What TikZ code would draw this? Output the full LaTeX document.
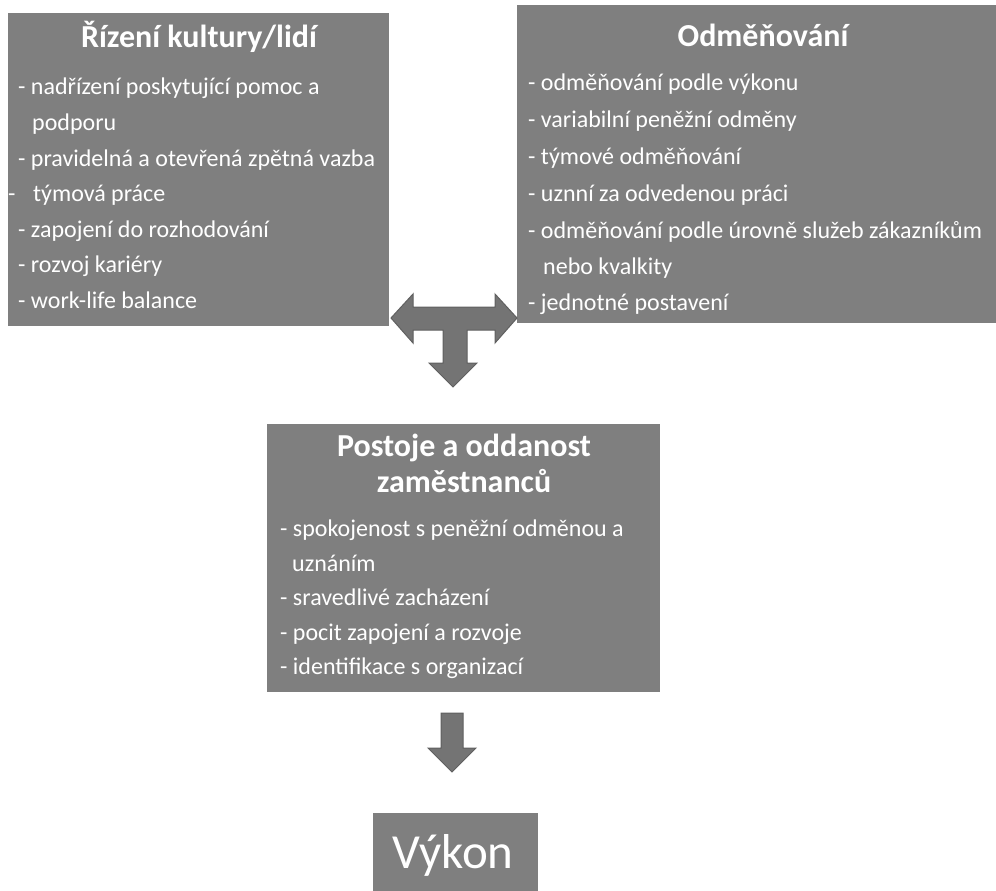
\documentclass[tikz,border=0pt]{standalone}
\usepackage{fontspec}
\setmainfont{Carlito}
\definecolor{boxgray}{HTML}{7F7F7F}
\definecolor{arrowgray}{HTML}{747474}
\definecolor{arrowedge}{HTML}{606060}
\begin{document}
\begin{tikzpicture}[x=1pt,y=-1pt,
  panel/.style={fill=boxgray, draw=none, inner sep=0, anchor=north west},
  head/.style={text=white, font=\fontsize{32}{36}\selectfont\bfseries, anchor=base, inner sep=0},
  item/.style={text=white, font=\fontsize{24}{28}\selectfont, anchor=base west, inner sep=0},
  bigarrow/.style={fill=arrowgray, draw=arrowedge, line width=1pt, line join=miter}]

\useasboundingbox (0,0) rectangle (996,891);

% panels
\node[panel, minimum width=381, minimum height=313] (culture) at (8,13) {};
\node[panel, minimum width=492, minimum height=318] (reward) at (517,5) {};
\node[panel, minimum width=393, minimum height=268] (attitude) at (267,424) {};
\node[panel, minimum width=165, minimum height=78] (perf) at (373,813) {};

% culture / people management
\node[head] (cultureT) at (199,48) {Řízení kultury/lidí};
\node[item] (c1) at (18,95)  {- nadřízení poskytující pomoc a};
\node[item] (c2) at (32,130) {podporu};
\node[item] (c3) at (18,166) {- pravidelná a otevřená zpětná vazba};
\node[item] (c4a) at (8,201) {-};
\node[item] (c4) at (33,201) {týmová práce};
\node[item] (c5) at (18,237) {- zapojení do rozhodování};
\node[item] (c6) at (18,272) {- rozvoj kariéry};
\node[item] (c7) at (18,308) {- work-life balance};

% rewards
\node[head] (rewardT) at (763,47) {Odměňování};
\node[item] (r1) at (528,90)  {- odměňování podle výkonu};
\node[item] (r2) at (528,127) {- variabilní peněžní odměny};
\node[item] (r3) at (528,164) {- týmové odměňování};
\node[item] (r4) at (528,201) {- uznní za odvedenou práci};
\node[item] (r5) at (528,238) {- odměňování podle úrovně služeb zákazníkům};
\node[item] (r6) at (543,274) {nebo kvalkity};
\node[item] (r7) at (528,310) {- jednotné postavení};

% attitudes and commitment
\node[head] (attT1) at (464,456) {Postoje a oddanost};
\node[head] (attT2) at (464,492) {zaměstnanců};
\node[item] (a1) at (280,536) {- spokojenost s peněžní odměnou a};
\node[item] (a2) at (292,571) {uznáním};
\node[item] (a3) at (280,605) {- sravedlivé zacházení};
\node[item] (a4) at (280,640) {- pocit zapojení a rozvoje};
\node[item] (a5) at (280,674) {- identifikace s organizací};

% performance
\node[text=white, font=\fontsize{49}{56}\selectfont, anchor=base, inner sep=0] (perfT) at (453,868) {Výkon};

% T-shaped block arrow between the two upper panels, pointing down
\draw[bigarrow] (391,318) -- (413,294) -- (413,307) -- (495,307) -- (495,294)
  -- (517,318) -- (495,343) -- (495,330) -- (467,330) -- (467,363) -- (477,363)
  -- (453,387) -- (429,363) -- (443,363) -- (443,330) -- (413,330) -- (413,343) -- cycle;

% block arrow down to performance
\draw[bigarrow] (441,713) -- (463,713) -- (463,748) -- (476,748) -- (452,772)
  -- (428,748) -- (441,748) -- cycle;
\end{tikzpicture}
\end{document}
